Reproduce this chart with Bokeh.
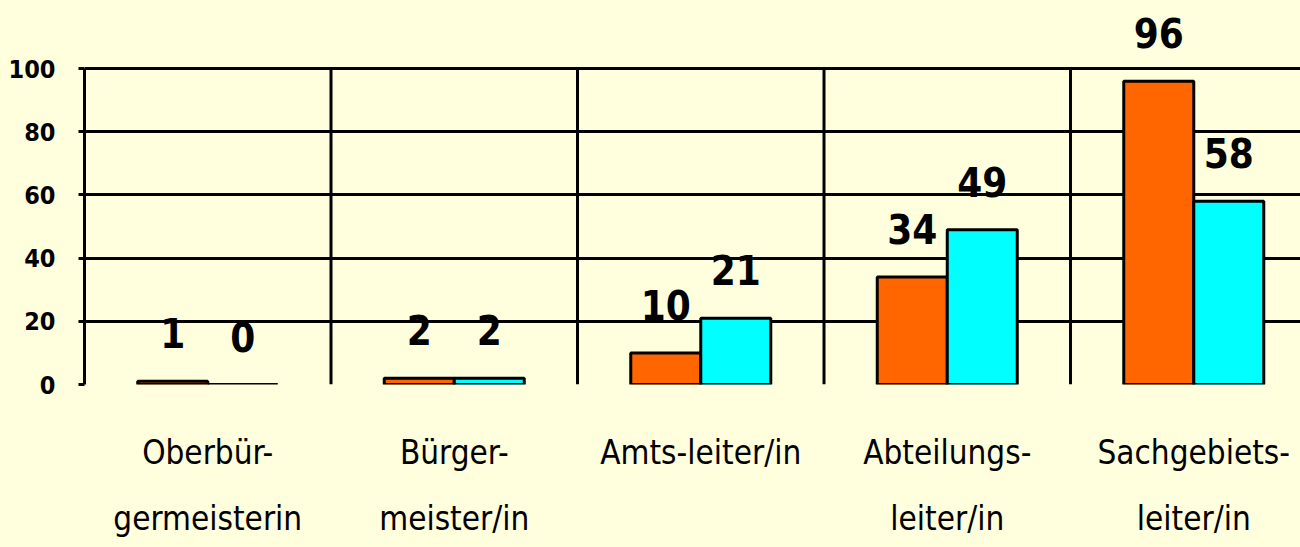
from bokeh.plotting import figure
from bokeh.models import Range1d, FixedTicker, LabelSet, ColumnDataSource
from bokeh.core.properties import value
from bokeh.embed import file_html
from bokeh.resources import INLINE

categories = ["Oberbür-\ngermeisterin", "Bürger-\nmeister/in", "Amts-leiter/in",
              "Abteilungs-\nleiter/in", "Sachgebiets-\nleiter/in"]
frauen = [1, 2, 10, 34, 96]
maenner = [0, 2, 21, 49, 58]
y_ticks = [0, 20, 40, 60, 80, 100]

BG = "#FFFFDD"
ORANGE = "#FF6600"
CYAN = "#00FFFF"
COND = "DejaVu Sans Condensed"

n = len(categories)
bar_w = 0.284
idx = list(range(n))

p = figure(frame_width=1216, frame_height=376, output_backend="svg", toolbar_location=None,
           x_range=Range1d(-0.5, 4.433), y_range=Range1d(0, 119),
           min_border_left=84, min_border_right=0, min_border_top=8, min_border_bottom=163,
           background_fill_color=BG, border_fill_color=BG, outline_line_color=None)

# grid
p.xgrid.visible = False
p.ygrid.ticker = FixedTicker(ticks=y_ticks)
p.ygrid.grid_line_color = "black"
p.ygrid.grid_line_width = 3

# separators between categories
seps = [i + 0.5 for i in idx]
p.segment(x0=seps, y0=[0] * n, x1=seps, y1=[max(y_ticks)] * n, line_color="black", line_width=3)

# bars
src_f = ColumnDataSource(dict(x=[i - bar_w / 2 for i in idx], top=frauen, label=[str(v) for v in frauen]))
src_m = ColumnDataSource(dict(x=[i + bar_w / 2 for i in idx], top=maenner, label=[str(v) for v in maenner]))
p.vbar(x="x", top="top", width=bar_w, source=src_f, fill_color=ORANGE, line_color="black", line_width=3)
p.vbar(x="x", top="top", width=bar_w, source=src_m, fill_color=CYAN, line_color="black", line_width=3)

for src in (src_f, src_m):
    p.add_layout(LabelSet(x="x", y="top", text="label", source=src, y_offset=33,
                          text_align="center", text_baseline="alphabetic",
                          text_font=value(COND), text_font_style="bold", text_font_size="40px",
                          text_color="black"))

# x axis
p.xaxis.ticker = FixedTicker(ticks=idx)
p.xaxis.major_label_overrides = {i: c for i, c in zip(idx, categories)}
p.xaxis.axis_line_color = None
p.xaxis.major_tick_line_color = None
p.xaxis.minor_tick_line_color = None
p.xaxis.major_label_standoff = 42
p.xaxis.major_label_text_font = COND
p.xaxis.major_label_text_font_size = "33px"
p.xaxis.major_label_text_font_style = "normal"
p.xaxis.major_label_text_color = "black"
p.xaxis.major_label_text_line_height = 1.7

# y axis
p.yaxis.ticker = FixedTicker(ticks=y_ticks)
p.yaxis.bounds = (0, 100)
p.yaxis.axis_line_color = "black"
p.yaxis.axis_line_width = 3
p.yaxis.major_tick_line_color = "black"
p.yaxis.major_tick_line_width = 3
p.yaxis.major_tick_out = 6
p.yaxis.major_tick_in = 0
p.yaxis.minor_tick_line_color = None
p.yaxis.major_label_standoff = 23
p.yaxis.major_label_text_font = COND
p.yaxis.major_label_text_font_style = "bold"
p.yaxis.major_label_text_font_size = "25px"
p.yaxis.major_label_text_color = "black"

html = file_html(p, INLINE)
html = html.replace("<head>", "<head><style>html,body{background:%s;overflow:hidden;}</style>" % BG, 1)
open("out.html", "w").write(html)
